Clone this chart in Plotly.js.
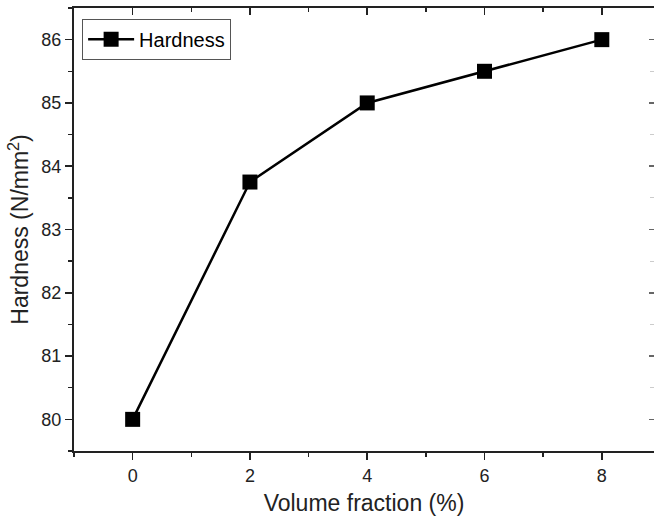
<!DOCTYPE html>
<html><head><meta charset="utf-8">
<script src="https://cdn.plot.ly/plotly-3.0.1.min.js"></script>
<style>html,body{margin:0;padding:0;background:#fff}</style>
</head><body>
<div id="chart" style="width:654px;height:520px"></div>
<script>
const volumeFraction = [0, 2, 4, 6, 8];
const hardness = [80, 83.75, 85, 85.5, 86];
const seriesName = 'Hardness';
const xTitle = 'Volume fraction (%)';
const yTitle = 'Hardness (N/mm<sup>2</sup>)';
const xTickVals = [0, 2, 4, 6, 8];
const xTickText = ['0', '2', '4', '6', '8'];
const yTickVals = [80, 81, 82, 83, 84, 85, 86];
const xRange = [-1, 8.89];
const yRange = [79.5, 86.5];

const font = 'Liberation Sans, Arial, sans-serif';
const trace = {
  x: volumeFraction, y: hardness, name: seriesName,
  type: 'scatter', mode: 'lines+markers',
  line: {color: '#000', width: 2.5},
  marker: {symbol: 'square', size: 15, color: '#000'}
};
const layout = {
  width: 654, height: 520,
  margin: {l: 74, r: 0, t: 8, b: 69},
  paper_bgcolor: '#fff', plot_bgcolor: '#fff',
  showlegend: true,
  legend: {x: 0.014, y: 0.976, xanchor: 'left', yanchor: 'top',
    bordercolor: '#555', borderwidth: 1, bgcolor: '#fff',
    font: {family: font, size: 20, color: '#000'}, itemwidth: 46},
  xaxis: {range: xRange, showgrid: false, zeroline: false,
    showline: true, linecolor: '#222', linewidth: 2,
    ticks: 'outside', ticklen: 7, tickwidth: 1.5, tickcolor: '#222',
    tickvals: xTickVals, ticktext: xTickText,
    minor: {dtick: 1, tick0: 0, ticks: 'outside', ticklen: 4, tickwidth: 1.5, tickcolor: '#222'},
    tickfont: {family: font, size: 18, color: '#222'},
    title: {text: xTitle, font: {family: font, size: 23, color: '#222'}, standoff: 10}},
  xaxis2: {range: xRange, overlaying: 'x', side: 'top', showgrid: false, zeroline: false,
    showline: true, linecolor: '#222', linewidth: 2,
    ticks: 'inside', ticklen: 7, tickwidth: 1.5, tickcolor: '#222',
    tickvals: xTickVals, showticklabels: false,
    minor: {dtick: 1, tick0: 0, ticks: 'inside', ticklen: 4, tickwidth: 1.5, tickcolor: '#222'}},
  yaxis: {range: yRange, showgrid: false, zeroline: false,
    showline: true, linecolor: '#222', linewidth: 2,
    ticks: 'outside', ticklen: 7, tickwidth: 1.5, tickcolor: '#222',
    tickvals: yTickVals,
    minor: {dtick: 0.5, tick0: 0, ticks: 'outside', ticklen: 4, tickwidth: 1.5, tickcolor: '#222'},
    tickfont: {family: font, size: 18, color: '#222'},
    title: {text: yTitle, font: {family: font, size: 23, color: '#222'}, standoff: 6}},
  yaxis2: {range: yRange, overlaying: 'y', side: 'right', showgrid: false, zeroline: false,
    showline: false, ticks: 'inside', ticklen: 5, tickwidth: 1.5, tickcolor: '#666',
    tickvals: yTickVals, showticklabels: false,
    minor: {dtick: 0.5, tick0: 0, ticks: 'inside', ticklen: 4, tickwidth: 1, tickcolor: '#ccc'}}
};
const dummy = {x: [null], y: [null], xaxis: 'x2', yaxis: 'y2', showlegend: false, hoverinfo: 'skip', type: 'scatter'};
Plotly.newPlot('chart', [trace, dummy], layout, {displayModeBar: false, staticPlot: true});
</script>
</body></html>
